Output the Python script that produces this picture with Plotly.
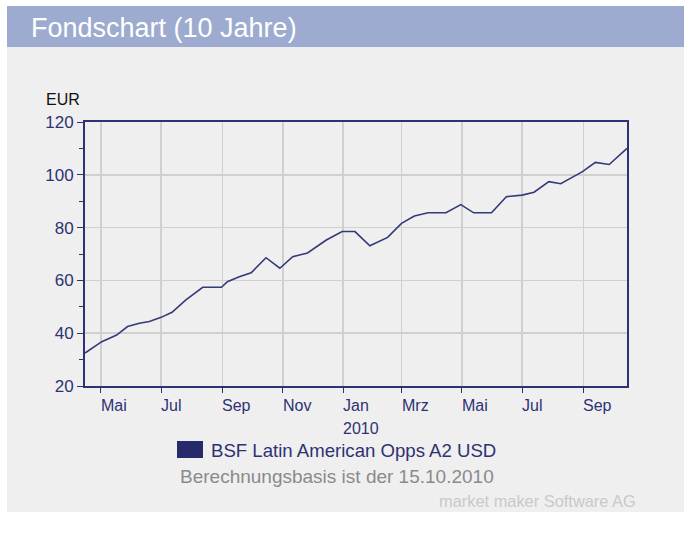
import plotly.graph_objects as go

# ---- data ----
dates = ['2009-04-15', '2009-05-02', '2009-05-17', '2009-05-28', '2009-06-09', '2009-06-19',
         '2009-07-01', '2009-07-12', '2009-07-26', '2009-08-12', '2009-08-31', '2009-09-06',
         '2009-09-18', '2009-09-30', '2009-10-15', '2009-10-29', '2009-11-11', '2009-11-26',
         '2009-12-15', '2009-12-27', '2009-12-31', '2010-01-13', '2010-01-28', '2010-02-15',
         '2010-03-01', '2010-03-14', '2010-03-28', '2010-04-15', '2010-04-30', '2010-05-13',
         '2010-05-31', '2010-06-15', '2010-07-01', '2010-07-13', '2010-07-28', '2010-08-09',
         '2010-08-19', '2010-08-31', '2010-09-13', '2010-09-27', '2010-10-15']
values = [32.5, 36.8, 39.3, 42.5, 43.8, 44.4,
          46.0, 47.9, 52.6, 57.4, 57.4, 59.5,
          61.4, 62.9, 68.6, 64.6, 69.0, 70.4,
          75.3, 77.8, 78.5, 78.5, 73.1, 76.3,
          81.6, 84.4, 85.6, 85.6, 88.7, 85.6,
          85.6, 91.7, 92.3, 93.4, 97.4, 96.6,
          98.7, 101.2, 104.7, 103.9, 110.0]

tick_dates = ['2009-05-01', '2009-07-01', '2009-09-01', '2009-11-01', '2010-01-01',
              '2010-03-01', '2010-05-01', '2010-07-01', '2010-09-01']
tick_labels = ['Mai', 'Jul', 'Sep', 'Nov', 'Jan', 'Mrz', 'Mai', 'Jul', 'Sep']
year_label = '2010'
year_date = '2010-01-01'

series_name = 'BSF Latin American Opps A2 USD'
title_text = 'Fondschart (10 Jahre)'
basis_text = 'Berechnungsbasis ist der 15.10.2010'
credit_text = 'market maker Software AG'
unit_text = 'EUR'

# ---- layout geometry (page pixels) ----
W, H = 684, 533
L, R, T, B = 85, 627, 122, 386
PW, PH = R - L, B - T

def px(x):
    return (x - L) / PW

def py(y):
    return (B - y) / PH

NAVY = '#2e3273'
FONT = 'Liberation Sans, Arial, sans-serif'

fig = go.Figure()
fig.add_trace(go.Scatter(x=dates, y=values, mode='lines',
                         line=dict(color='#34397a', width=1.6),
                         name=series_name, showlegend=False, hoverinfo='skip'))

shapes = [
    # grey panel
    dict(type='rect', xref='paper', yref='paper', x0=px(7), x1=px(700), y0=py(512), y1=py(47),
         fillcolor='#efefef', line=dict(width=0), layer='below'),
    # header band
    dict(type='rect', xref='paper', yref='paper', x0=px(7), x1=px(700), y0=py(47), y1=py(6),
         fillcolor='#9cabcf', line=dict(width=0), layer='below'),
    # legend square
    dict(type='rect', xref='paper', yref='paper', x0=px(177), x1=px(203), y0=py(458), y1=py(441),
         fillcolor='#262a6b', line=dict(width=0)),
]

annotations = [
    dict(text=title_text, xref='paper', yref='paper', x=px(29), y=py(28), xanchor='left',
         yanchor='middle', showarrow=False, font=dict(family=FONT, size=27, color='white')),
    dict(text=unit_text, xref='paper', yref='paper', x=px(44), y=py(99), xanchor='left',
         yanchor='middle', showarrow=False, font=dict(family=FONT, size=16, color='#111111')),
    dict(text=series_name, xref='paper', yref='paper', x=px(209), y=py(450), xanchor='left',
         yanchor='middle', showarrow=False, font=dict(family=FONT, size=18.6, color=NAVY)),
    dict(text=basis_text, xref='paper', yref='paper', x=px(178), y=py(476), xanchor='left',
         yanchor='middle', showarrow=False, font=dict(family=FONT, size=19, color='#8a8a8a')),
    dict(text=credit_text, xref='paper', yref='paper', x=px(638), y=py(501), xanchor='right',
         yanchor='middle', showarrow=False, font=dict(family=FONT, size=16.4, color='#c9c9c9')),
]
for d, lab in zip(tick_dates, tick_labels):
    annotations.append(dict(text=lab, xref='x', yref='paper', x=d, y=py(405), xanchor='left',
                            yanchor='middle', showarrow=False, xshift=-2,
                            font=dict(family=FONT, size=16, color=NAVY)))
annotations.append(dict(text=year_label, xref='x', yref='paper', x=year_date, y=py(428),
                        xanchor='left', yanchor='middle', showarrow=False, xshift=-2,
                        font=dict(family=FONT, size=16, color=NAVY)))

fig.update_layout(
    width=W, height=H, autosize=False,
    margin=dict(l=L, r=W - R, t=T, b=H - B, pad=0),
    paper_bgcolor='white', plot_bgcolor='white',
    shapes=shapes, annotations=annotations,
    font=dict(family=FONT, size=16, color=NAVY),
    xaxis=dict(type='date', range=[dates[0], dates[-1]], tickvals=tick_dates,
               showticklabels=False, ticks='outside', ticklen=5, tickcolor=NAVY, tickwidth=1,
               showgrid=True, gridcolor='#d0d0d0', gridwidth=1.5,
               showline=True, linecolor=NAVY, linewidth=2, mirror=True, zeroline=False),
    yaxis=dict(range=[20, 120], tick0=20, dtick=20, ticks='outside', ticklen=6,
               tickcolor=NAVY, tickwidth=1, tickfont=dict(family=FONT, size=17, color=NAVY),
               showgrid=True, gridcolor='#d0d0d0', gridwidth=1.5,
               minor=dict(dtick=10, tick0=20, ticks='outside', ticklen=4, tickcolor=NAVY,
                          showgrid=False),
               showline=True, linecolor=NAVY, linewidth=2, mirror=True, zeroline=False),
)

fig.write_html('out.html', config={'displayModeBar': False, 'staticPlot': True},
               post_script="document.body.style.margin='0px';document.body.style.overflow='hidden';")
